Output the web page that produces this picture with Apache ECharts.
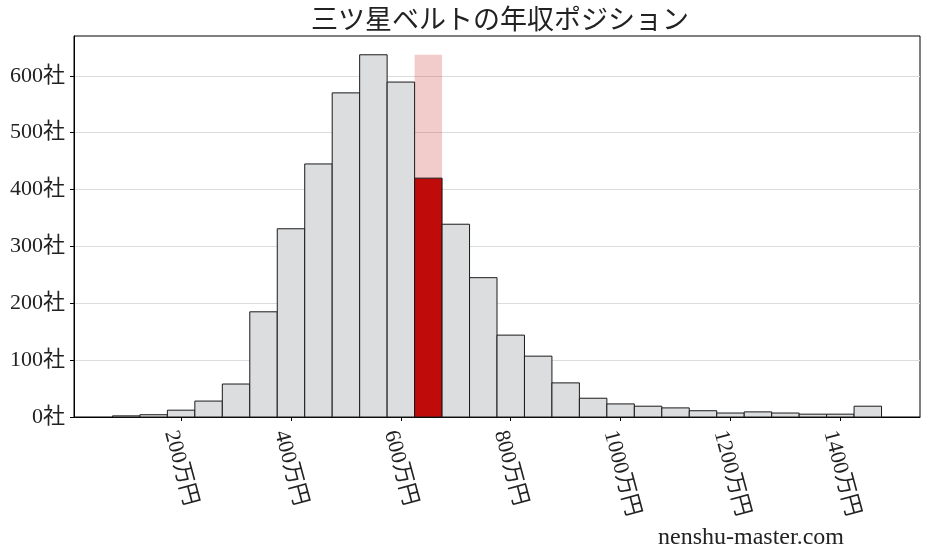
<!DOCTYPE html>
<html>
<head>
<meta charset="utf-8">
<script src="https://cdn.jsdelivr.net/npm/echarts@6/dist/echarts.min.js"></script>
<style>
html,body{margin:0;padding:0;background:#fff;}
#chart{width:927px;height:557px;}
</style>
</head>
<body>
<div id="chart"></div>
<script>
// ---- data ----
const titleText = '三ツ星ベルトの年収ポジション';
const watermark = 'nenshu-master.com';
const binStart = 75;      // 万円
const binWidth = 50;      // 万円
const counts = [2, 4, 12, 28, 58, 185, 331, 445, 570, 637, 589, 420, 339, 245, 144, 107, 60, 33, 23, 19, 16, 11, 7, 9, 7, 5, 5, 19];
const highlightIndex = 11; // 625-675万円
const highlightBackHeight = 637;
const xTickValues = [200, 400, 600, 800, 1000, 1200, 1400];
const yTickValues = [0, 100, 200, 300, 400, 500, 600];

const xMin = 5, xMax = 1545, yMin = 0, yMax = 670;

const binData = counts.map((c, i) => [binStart + i * binWidth, binStart + (i + 1) * binWidth, c, i === highlightIndex ? 1 : 0]);
const backData = [[binStart + highlightIndex * binWidth, binStart + (highlightIndex + 1) * binWidth, highlightBackHeight]];

const serifFont = "'Liberation Serif', 'Noto Sans CJK JP', serif";
const chart = echarts.init(document.getElementById('chart'), null, {renderer: 'canvas'});

function rectItem(params, api, style) {
  const p0 = api.coord([api.value(0), 0]);
  const p1 = api.coord([api.value(1), api.value(2)]);
  return {
    type: 'rect',
    shape: {x: p0[0], y: p1[1], width: p1[0] - p0[0], height: p0[1] - p1[1]},
    style: style
  };
}

const labelShift = 19; // shift label axis so rotated label boxes are centered on ticks

chart.setOption({
  animation: false,
  backgroundColor: '#ffffff',
  grid: {left: 74, right: 7, top: 36, bottom: 140, show: true, borderColor: '#000', borderWidth: 1, backgroundColor: 'transparent'},
  xAxis: [
    {
      type: 'value', min: xMin, max: xMax, gridIndex: 0, position: 'bottom',
      axisLine: {show: true, lineStyle: {color: '#000', width: 1}},
      axisTick: {show: true, length: 4, customValues: xTickValues, lineStyle: {color: '#000'}},
      axisLabel: {show: false},
      splitLine: {show: false}
    },
    {
      type: 'value', min: xMin + labelShift, max: xMax + labelShift, gridIndex: 0, position: 'bottom',
      axisLine: {show: false},
      axisTick: {show: false},
      splitLine: {show: false},
      axisLabel: {
        show: true, customValues: xTickValues, rotate: -75, margin: 14,
        align: 'left', verticalAlign: 'middle',
        fontSize: 22, fontFamily: serifFont, color: '#222',
        formatter: v => v + '万円'
      }
    }
  ],
  yAxis: {
    type: 'value', min: yMin, max: yMax, interval: 100,
    axisLine: {show: true, lineStyle: {color: '#000'}},
    axisTick: {show: true, length: 4, customValues: yTickValues, lineStyle: {color: '#000'}},
    axisLabel: {customValues: yTickValues, margin: 9, fontSize: 22, fontFamily: serifFont, color: '#222', formatter: v => v + '社'},
    splitLine: {show: true, lineStyle: {color: '#dcdcdc', width: 1}}
  },
  series: [
    {
      type: 'custom', xAxisIndex: 0, yAxisIndex: 0, data: backData, z: 2,
      renderItem: (params, api) => rectItem(params, api, {fill: 'rgba(200,30,30,0.23)'})
    },
    {
      type: 'custom', xAxisIndex: 0, yAxisIndex: 0, data: binData, z: 3,
      renderItem: (params, api) => rectItem(params, api, {
        fill: api.value(3) ? '#c00b0b' : '#dcdddf', stroke: '#1a1a1a', lineWidth: 1
      })
    }
  ],
  graphic: [
    {type: 'text', x: 500, y: 19, style: {text: titleText, fontSize: 27, fontFamily: "'Noto Sans CJK JP', sans-serif", fill: '#222', align: 'center', verticalAlign: 'middle'}},
    {type: 'text', x: 751, y: 538, style: {text: watermark, fontSize: 24, fontFamily: serifFont, fill: '#222', align: 'center', verticalAlign: 'middle'}}
  ]
});
</script>
</body>
</html>
